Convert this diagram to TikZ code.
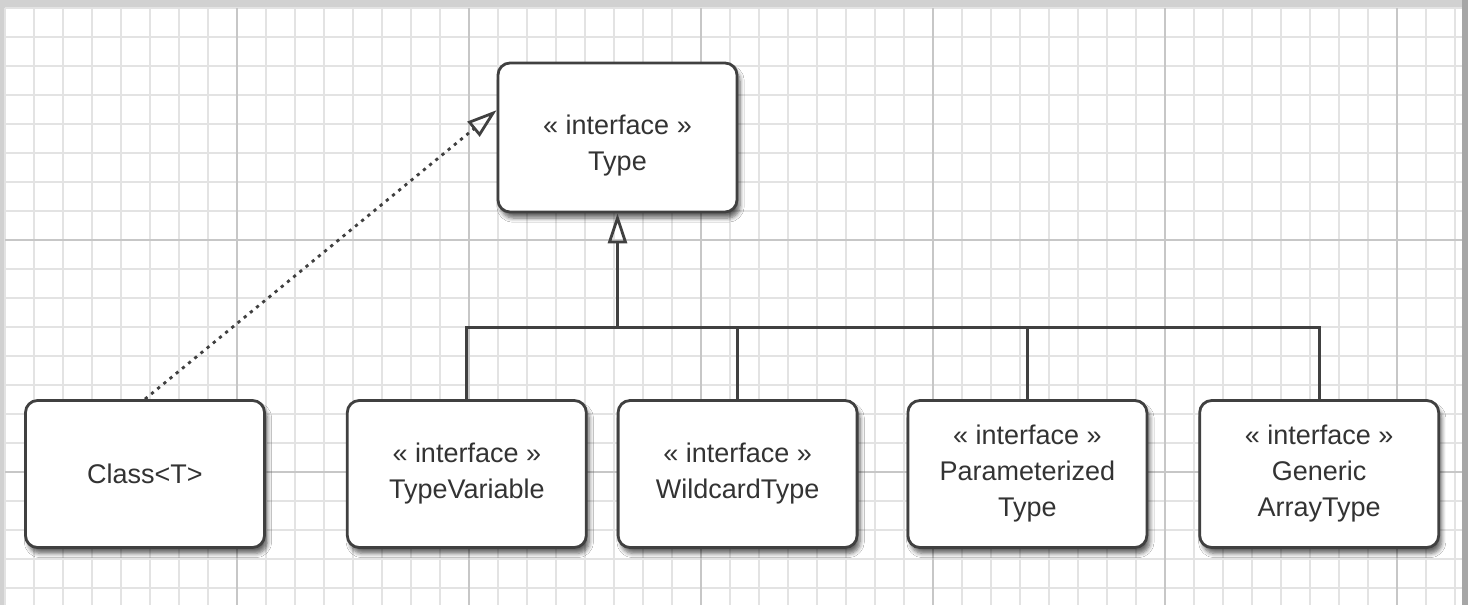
\documentclass[tikz,border=0pt]{standalone}
\usepackage{fontspec}
\setmainfont{Liberation Sans}
\usetikzlibrary{arrows.meta,positioning,calc,shadows.blur}

\begin{document}
\begin{tikzpicture}[
      x=0.5pt, y=-0.5pt,
      umlbox/.style  = {rectangle, rounded corners=6pt, draw=black!75,
                        line width=1.4pt, fill=white, text=black!80,
                        minimum width=119.5pt, minimum height=73.5pt,
                        align=center, font=\fontsize{13.5}{18}\selectfont,
                        blur shadow={shadow xshift=1.5pt, shadow yshift=-3pt,
                                     shadow blur steps=6, shadow opacity=60}},
      link/.style    = {line width=1.4pt, draw=black!75},
      inherit/.style = {link, -{Triangle[open, length=15pt, width=9.5pt]}},
      realize/.style = {inherit, dash pattern=on 1.6pt off 2.4pt},
      minorline/.style = {draw=black!11, line width=0.6pt},
      majorline/.style = {draw=black!22, line width=0.8pt}
    ]
    \useasboundingbox (0,0) rectangle (1468,605);

    % squared paper
    \fill[black!18] (0,0) rectangle (1468,605);
    \fill[black!35] (1462,0) rectangle (1468,605);
    \fill[white] (5,8) rectangle (1462,605);
    \foreach \gx in {5,34,...,1462} \draw[minorline] (\gx,8) -- (\gx,605);
    \foreach \gy in {8,37,...,605}  \draw[minorline] (5,\gy) -- (1462,\gy);
    \foreach \gx in {237,469,...,1400} \draw[majorline] (\gx,8) -- (\gx,605);
    \foreach \gy in {240,472}       \draw[majorline] (5,\gy) -- (1462,\gy);

    \node[umlbox, minimum height=74.5pt, text height=36pt] (type) at (617.5,137.5) {« interface »\\Type};

    \node[umlbox] (cls) at (145,474) {Class<T>};
    \node[umlbox, right=40pt of cls]   (tvar)  {« interface »\\TypeVariable};
    \node[umlbox, right=14.5pt of tvar] (wild)  {« interface »\\WildcardType};
    \node[umlbox, right=24pt of wild]  (param) {« interface »\\Parameterized\\Type};
    \node[umlbox, right=25pt of param] (garr)  {« interface »\\Generic\\ArrayType};

    \coordinate[below=57pt of type.south] (bus);
    \coordinate (tip) at ($(type.north west)!0.32!(type.south west)$);

    \draw[link] (tvar.north) |- (bus) -| (garr.north);
    \draw[link] (wild.north)  -- (wild.north |- bus);
    \draw[link] (param.north) -- (param.north |- bus);
    \draw[inherit] (bus) -- (type.south);
    \draw[realize] (cls.north) -- (tip);
  \end{tikzpicture}
\end{document}
